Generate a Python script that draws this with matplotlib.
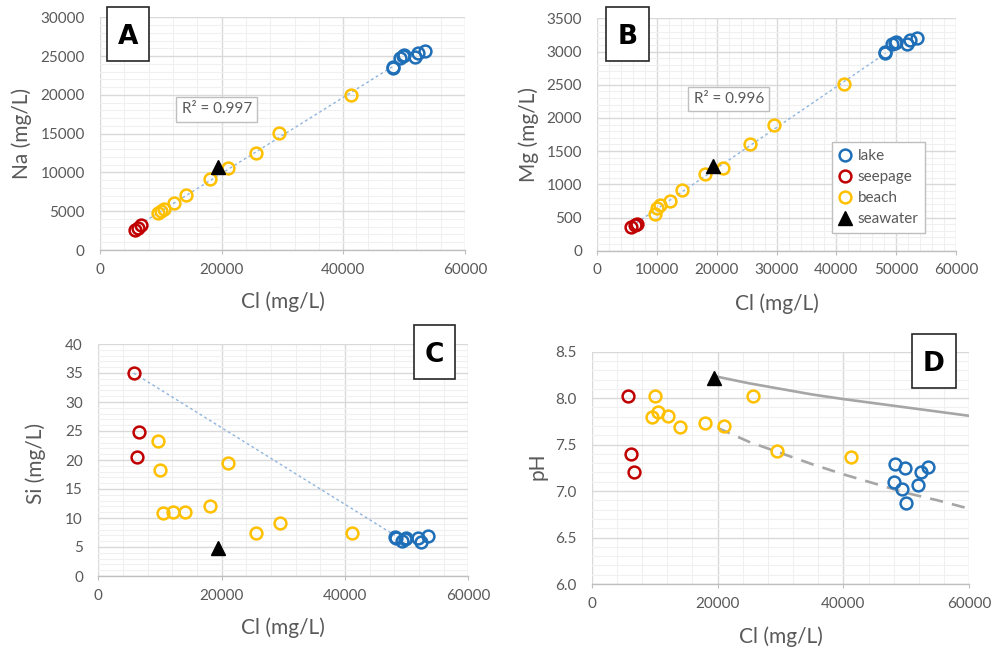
import numpy as np
import matplotlib
matplotlib.use("Agg")
import matplotlib.pyplot as plt
import matplotlib.ticker as ticker
from matplotlib.patches import Rectangle
from matplotlib.lines import Line2D

plt.rcParams["font.family"] = ["Lato", "DejaVu Sans"]

# ── Data (Cl, Na, Mg, Si in mg/L) ──────────────────────────────────────────
lake_cl = [48100, 48200, 49250, 49800, 49950, 51800, 52350, 53400]
lake_na = [23500, 23600, 24800, 25000, 25100, 24900, 25400, 25600]
lake_mg = [2970, 2990, 3120, 3130, 3140, 3110, 3170, 3200]
lake_si = [6.8, 6.6, 6.0, 6.3, 6.6, 6.5, 5.9, 6.9]
lake_ph = [7.10, 7.29, 7.02, 7.25, 6.87, 7.07, 7.20, 7.26]

seep_cl = [5720, 6250, 6670]
seep_na = [2600, 2900, 3200]
seep_mg = [360, 380, 400]
seep_si = [35.0, 20.6, 24.9]
seep_ph = [8.02, 7.40, 7.21]

beach_cl = [9600, 10000, 10500, 12150, 14100, 18050, 21000, 25600, 29500, 41200]
beach_na = [4800, 5000, 5300, 6000, 7100, 9200, 10600, 12500, 15100, 20000]
beach_mg = [560, 640, 690, 750, 910, 1160, 1250, 1610, 1900, 2510]
beach_si = [23.3, 18.2, 10.9, 11.0, 11.1, 12.0, 19.4, 7.5, 9.2, 7.5]
beach_ph = [7.80, 8.02, 7.85, 7.81, 7.69, 7.73, 7.70, 8.02, 7.43, 7.37]

sea_cl = [19400]
sea_na = [10700]
sea_mg = [1280]
sea_si = [4.9]
sea_ph = [8.22]

# linear trend extent (A, B) and mixing line (C)
trend_cl = [6600, 48200]
mix_cl = [5720, 48100]
mix_si = [35.0, 7.0]

# pH model curves (D)
curve_cl = [20000, 25000, 30000, 35000, 40000, 45000, 50000, 55000, 60000]
curve_solid = [8.23, 8.16, 8.10, 8.04, 7.99, 7.945, 7.90, 7.855, 7.81]
curve_dashed = [7.68, 7.53, 7.41, 7.29, 7.18, 7.08, 6.98, 6.90, 6.81]

r2_text = {"A": "R² = 0.997", "B": "R² = 0.996"}

# ── Style ──────────────────────────────────────────────────────────────────
C_LAKE = "#1f6fb8"
C_SEEP = "#c00000"
C_BEACH = "#ffc000"
C_TEXT = "#595959"
C_GRID = "#d9d9d9"
C_MINOR = "#f0f0f0"
C_TREND = "#8fb4de"
MS, MEW = 8.5, 1.8

W, H = 995, 654
fig = plt.figure(figsize=(W / 100, H / 100), dpi=100)


def px_axes(l, t, r, b):
    return fig.add_axes([l / W, (H - b) / H, (r - l) / W, (b - t) / H])


def style_axes(ax, xmaj, xmin, ymaj, ymin, ylim, yfmt=None):
    ax.set_xlim(0, 60000)
    ax.set_ylim(*ylim)
    ax.xaxis.set_major_locator(ticker.MultipleLocator(xmaj))
    ax.xaxis.set_minor_locator(ticker.MultipleLocator(xmin))
    ax.yaxis.set_major_locator(ticker.MultipleLocator(ymaj))
    ax.yaxis.set_minor_locator(ticker.MultipleLocator(ymin))
    if yfmt:
        ax.yaxis.set_major_formatter(ticker.FormatStrFormatter(yfmt))
    ax.grid(True, which="minor", color=C_MINOR, linewidth=0.8, zorder=0)
    ax.grid(True, which="major", color=C_GRID, linewidth=1.0, zorder=0)
    ax.set_axisbelow(True)
    for s in ("top", "right", "left"):
        ax.spines[s].set_visible(False)
    ax.spines["bottom"].set_color("#bfbfbf")
    ax.spines["bottom"].set_linewidth(1.0)
    ax.tick_params(axis="x", which="major", length=3, color="#bfbfbf",
                   labelsize=11, labelcolor=C_TEXT, pad=6)
    ax.tick_params(axis="y", which="major", length=0,
                   labelsize=11, labelcolor=C_TEXT, pad=11)
    ax.tick_params(which="minor", length=0)


def scatter_groups(ax, lake_y, seep_y, beach_y, sea_y):
    ax.plot(lake_cl, lake_y, "o", ms=MS, mfc="none", mec=C_LAKE, mew=MEW, zorder=4)
    ax.plot(seep_cl, seep_y, "o", ms=MS, mfc="none", mec=C_SEEP, mew=MEW, zorder=4)
    ax.plot(beach_cl, beach_y, "o", ms=MS, mfc="none", mec=C_BEACH, mew=MEW, zorder=4)
    ax.plot(sea_cl, sea_y, "^", ms=9.5, color="black", zorder=5)


def trend(ax, ys):
    x_all = np.concatenate([lake_cl, seep_cl, beach_cl])
    y_all = np.concatenate(ys)
    k, b = np.polyfit(x_all, y_all, 1)
    xs = np.array(trend_cl)
    ax.plot(xs, k * xs + b, linestyle=(0, (2, 2)), color=C_TREND,
            linewidth=1.0, zorder=3)


def panel_letter(l, t, r, b, letter):
    fig.add_artist(Rectangle((l / W, (H - b) / H), (r - l) / W, (b - t) / H,
                             transform=fig.transFigure, facecolor="white",
                             edgecolor="#262626", linewidth=1.2, zorder=10))
    fig.text((l + r) / 2 / W, (H - (t + b) / 2) / H, letter, ha="center",
             va="center_baseline", fontsize=19, fontweight="bold",
             family=["DejaVu Sans"], zorder=11)


def r2_box(ax, x, y, txt):
    ax.text(x, y, txt, transform=ax.transAxes, ha="center", va="center",
            fontsize=11, color=C_TEXT, zorder=6,
            bbox=dict(boxstyle="square,pad=0.35", facecolor="white",
                      edgecolor="#bfbfbf", linewidth=1.0))


def labels(ax, ylab, ylx, yly, xly):
    ax.set_xlabel("Cl (mg/L)", fontsize=15, color=C_TEXT, va="center")
    ax.set_ylabel(ylab, fontsize=15, color=C_TEXT, va="center")
    ax.yaxis.set_label_coords(ylx, yly)
    ax.xaxis.set_label_coords(0.5, xly)


# ── A: Na vs Cl ────────────────────────────────────────────────────────────
axA = px_axes(100, 17.3, 465, 250)
style_axes(axA, 20000, 4000, 5000, 1000, (0, 30000))
trend(axA, [lake_na, seep_na, beach_na])
scatter_groups(axA, lake_na, seep_na, beach_na, sea_na)
r2_box(axA, 0.320, 0.604, r2_text["A"])
labels(axA, "Na (mg/L)", -0.214, 0.5, -0.222)

# ── B: Mg vs Cl ────────────────────────────────────────────────────────────
axB = px_axes(597.3, 18.3, 956, 250.7)
style_axes(axB, 10000, 2000, 500, 100, (0, 3500))
trend(axB, [lake_mg, seep_mg, beach_mg])
scatter_groups(axB, lake_mg, seep_mg, beach_mg, sea_mg)
r2_box(axB, 0.367, 0.653, r2_text["B"])
labels(axB, "Mg (mg/L)", -0.192, 0.5, -0.226)

handles = [
    Line2D([], [], marker="o", ls="none", ms=MS, mfc="none", mec=C_LAKE, mew=MEW),
    Line2D([], [], marker="o", ls="none", ms=MS, mfc="none", mec=C_SEEP, mew=MEW),
    Line2D([], [], marker="o", ls="none", ms=MS, mfc="none", mec=C_BEACH, mew=MEW),
    Line2D([], [], marker="^", ls="none", ms=9.5, color="black"),
]
leg = axB.legend(handles, ["lake", "seepage", "beach", "seawater"],
                 loc="upper left", bbox_to_anchor=(0.655, 0.466),
                 fontsize=11, frameon=True, fancybox=False, framealpha=1,
                 edgecolor="#bfbfbf", handlelength=0.8, handletextpad=0.4,
                 borderpad=0.45, labelspacing=0.45, borderaxespad=0)
leg.get_frame().set_linewidth(1.0)
for t in leg.get_texts():
    t.set_color(C_TEXT)
leg.set_zorder(7)

# ── C: Si vs Cl ────────────────────────────────────────────────────────────
axC = px_axes(98.3, 344, 468.3, 576)
style_axes(axC, 20000, 4000, 5, 1, (0, 40))
axC.plot(mix_cl, mix_si, linestyle=(0, (2, 2)), color=C_TREND,
         linewidth=1.0, zorder=3)
scatter_groups(axC, lake_si, seep_si, beach_si, sea_si)
labels(axC, "Si (mg/L)", -0.168, 0.486, -0.225)

# ── D: pH vs Cl ────────────────────────────────────────────────────────────
axD = px_axes(591.7, 351.7, 969.3, 584)
style_axes(axD, 20000, 4000, 0.5, 0.1, (6.0, 8.5), yfmt="%.1f")
axD.plot(curve_cl, curve_solid, color="#a6a6a6", linewidth=1.9, zorder=3)
axD.plot(curve_cl, curve_dashed, color="#a6a6a6", linewidth=1.9,
         linestyle=(0, (5, 3.5)), zorder=3)
scatter_groups(axD, lake_ph, seep_ph, beach_ph, sea_ph)
labels(axD, "pH", -0.144, 0.505, -0.227)

# ── Panel letters ──────────────────────────────────────────────────────────
panel_letter(106.7, 7.3, 149.3, 60.7, "A")
panel_letter(606, 7.3, 649.3, 60.7, "B")
panel_letter(414.3, 325, 455.3, 379.3, "C")
panel_letter(911.7, 334, 956, 387.7, "D")

fig.savefig("out.png", dpi=100)
